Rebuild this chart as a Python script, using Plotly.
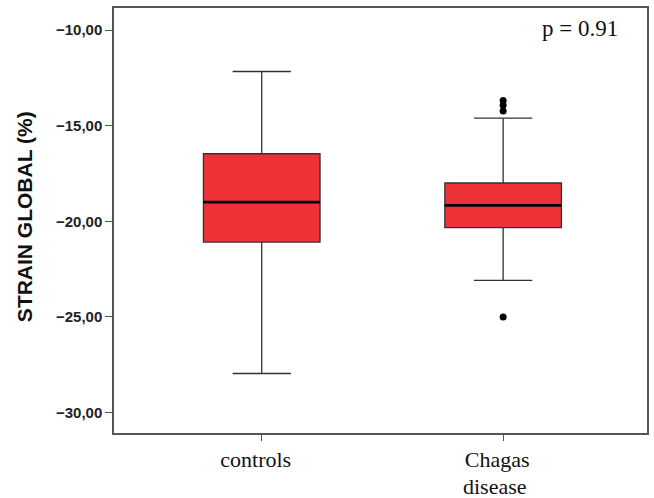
import plotly.graph_objects as go

categories = ["controls", "Chagas"]
category_second_line = ["", "disease"]
x_pos = [0, 1]
lower_fence = [-27.96, -23.09]
q1 = [-21.09, -20.33]
median = [-19.00, -19.17]
q3 = [-16.47, -18.00]
upper_fence = [-12.17, -14.61]
outlier_x = [1, 1, 1, 1]
outlier_y = [-13.68, -13.94, -14.24, -25.00]
y_ticks = [-10, -15, -20, -25, -30]
y_title = "STRAIN GLOBAL (%)"
p_text = "p = 0.91"

BOX_W = 0.483
fill = "#EE3338"
edge = "#333333"

fig = go.Figure()
for i in range(len(categories)):
    fig.add_trace(go.Box(
        x=[x_pos[i]], q1=[q1[i]], median=[median[i]], q3=[q3[i]],
        lowerfence=[lower_fence[i]], upperfence=[upper_fence[i]],
        width=BOX_W, whiskerwidth=0.5, fillcolor=fill,
        line=dict(color=edge, width=1.3), boxpoints=False,
        showlegend=False, hoverinfo="skip"))
    fig.add_trace(go.Scatter(
        x=[x_pos[i] - BOX_W / 2, x_pos[i] + BOX_W / 2], y=[median[i], median[i]],
        mode="lines", line=dict(color="black", width=2.6),
        showlegend=False, hoverinfo="skip"))
    if category_second_line[i]:
        fig.add_annotation(text=category_second_line[i], x=x_pos[i], xref="x",
                           y=-0.127, yref="paper", xanchor="center", yanchor="middle",
                           xshift=-8, showarrow=False, borderpad=0,
                           font=dict(family="Liberation Serif", size=22, color="#111"))

fig.add_trace(go.Scatter(
    x=outlier_x, y=outlier_y, mode="markers",
    marker=dict(color="black", size=7), showlegend=False, hoverinfo="skip"))

fig.add_annotation(text=p_text, xref="paper", yref="paper", x=0.95, y=0.985,
                   xanchor="right", yanchor="top", showarrow=False,
                   font=dict(family="Liberation Serif", size=23, color="#111"))

fig.add_annotation(text=y_title, xref="paper", yref="paper", x=-0.168, y=0.509,
                   xanchor="center", yanchor="middle", textangle=-90, showarrow=False,
                   font=dict(family="Liberation Sans", size=21, color="#111", weight="bold"))

fig.update_layout(
    width=654, height=498,
    margin=dict(l=114, r=7, t=8, b=65),
    paper_bgcolor="white", plot_bgcolor="white",
    separators=",.",
    xaxis=dict(range=[-0.612, 1.596], tickvals=x_pos, ticktext=categories,
               automargin=False, ticklabelshift=-6,
               showgrid=False, zeroline=False, showline=True, mirror=True,
               linecolor="#555", linewidth=1.5, ticks="outside", ticklen=6,
               tickcolor="#555", tickfont=dict(family="Liberation Serif", size=22, color="#111")),
    yaxis=dict(range=[-31.07, -8.85], tickvals=y_ticks, tickformat=".2f",
               automargin=False,
               showgrid=False, zeroline=False, showline=True, mirror=True,
               linecolor="#555", linewidth=1.5, ticks="outside", ticklen=7,
               tickcolor="#555", tickfont=dict(family="Liberation Sans", size=15, color="#222", weight="bold")),
)

fig.write_html("out.html", config={"displayModeBar": False},
               post_script="document.body.style.margin='0';document.body.style.overflow='hidden';")
